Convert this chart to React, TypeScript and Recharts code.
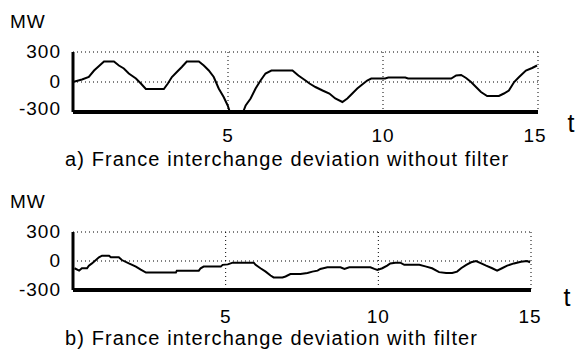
import { CartesianGrid, Line, LineChart, XAxis, YAxis } from "recharts";

// time axis (t) and interchange deviation (MW)
const topT = [0, 0.29, 0.51, 0.68, 0.84, 1.0, 1.32, 1.48, 1.64, 1.8, 2.03, 2.19, 2.35, 2.93, 3.06, 3.19, 3.35, 3.51, 3.67, 4.06, 4.22, 4.38, 4.54, 4.7, 4.86, 4.99, 5.05, 5.5, 5.57, 5.73, 5.89, 6.05, 6.21, 6.4, 7.08, 7.27, 7.5, 7.63, 7.82, 8.05, 8.27, 8.46, 8.69, 8.85, 9.01, 9.17, 9.33, 9.49, 9.62, 10.07, 10.17, 10.72, 10.81, 12.2, 12.36, 12.52, 12.68, 12.84, 13.0, 13.16, 13.36, 13.74, 13.9, 14.06, 14.23, 14.39, 14.61, 14.81, 14.97];
const topMW = [0, 25, 50, 115, 160, 205, 205, 165, 135, 85, 35, -15, -70, -70, -15, 50, 100, 150, 205, 205, 165, 115, 50, -65, -150, -235, -290, -290, -235, -165, -65, 15, 85, 115, 115, 65, 15, -15, -50, -85, -115, -165, -200, -165, -115, -65, -25, 15, 35, 35, 45, 45, 35, 35, 65, 70, 40, 0, -50, -100, -140, -140, -115, -85, 0, 50, 115, 140, 165];

const botT = [0.05, 0.2, 0.29, 0.46, 0.52, 0.62, 0.75, 0.85, 0.95, 1.18, 1.24, 1.5, 1.6, 1.83, 2.06, 2.22, 2.39, 3.37, 3.4, 4.12, 4.18, 4.28, 4.84, 4.9, 5.07, 5.23, 5.92, 5.98, 6.14, 6.31, 6.47, 6.57, 6.86, 6.96, 7.12, 7.45, 7.68, 7.84, 8.01, 8.1, 8.33, 8.76, 8.89, 9.05, 9.74, 9.87, 9.97, 10.13, 10.29, 10.39, 10.56, 10.72, 10.85, 11.34, 11.57, 11.76, 11.99, 12.22, 12.42, 12.58, 12.71, 12.88, 13.04, 13.2, 13.37, 13.53, 13.73, 13.89, 14.05, 14.22, 14.44, 14.67, 14.87, 14.97];
const botMW = [-75, -100, -75, -75, -48, -25, 10, 38, 55, 55, 38, 38, 10, -25, -58, -90, -120, -120, -100, -100, -75, -58, -58, -40, -35, -17, -17, -40, -75, -110, -150, -170, -170, -160, -135, -135, -125, -110, -100, -82, -65, -65, -82, -65, -65, -82, -92, -75, -48, -25, -17, -17, -40, -40, -58, -75, -115, -125, -125, -110, -75, -40, -13, 0, -25, -48, -75, -100, -75, -48, -25, -7, 0, -13];

const xTicks = [5, 10, 15];
const yTicks = [-300, 0, 300];
const captions = [
	"a) France interchange deviation without filter",
	"b) France interchange deviation with filter",
];

const FONT = '"Liberation Sans", Arial, sans-serif';

const topData = topT.map((t, i) => ({ t, mw: topMW[i] }));
const botData = botT.map((t, i) => ({ t, mw: botMW[i] }));

function makeYTick(lowShift: number) {
	return (props: any) => {
		const v = props.payload.value;
		return (
			<text x={61} y={props.y + (v === -300 ? lowShift : 6)} textAnchor="end" fontFamily={FONT} fontSize={19} letterSpacing={1} fill="#000">
				{v}
			</text>
		);
	};
}

function makeXTick(baseline: number, lastShift: number) {
	return (props: any) => {
		const v = props.payload.value;
		return (
			<text x={props.x + (v === 15 ? lastShift : 0)} y={props.y + baseline} textAnchor="middle" fontFamily={FONT} fontSize={19} letterSpacing={1} fill="#000">
				{v}
			</text>
		);
	};
}

function Panel({ data, height, margin, xBase, lastShift, lowShift }: any) {
	return (
		<LineChart width={575} height={height} data={data} margin={margin}>
			<CartesianGrid stroke="#000" strokeDasharray="1 3" horizontalValues={yTicks} verticalValues={xTicks} />
			<XAxis
				dataKey="t"
				type="number"
				domain={[0, 15]}
				ticks={xTicks}
				tickLine={false}
				tickSize={0}
				tickMargin={0}
				height={30}
				axisLine={{ stroke: "#000", strokeWidth: 4 }}
				tick={makeXTick(xBase, lastShift)}
				interval={0}
			/>
			<YAxis
				type="number"
				domain={[-300, 300]}
				ticks={yTicks}
				tickLine={false}
				tickSize={0}
				tickMargin={0}
				width={73}
				axisLine={{ stroke: "#000", strokeWidth: 3 }}
				tick={makeYTick(lowShift)}
				interval={0}
			/>
			<Line type="linear" dataKey="mw" stroke="#000" strokeWidth={2} dot={false} isAnimationActive={false} />
		</LineChart>
	);
}

export default function App() {
	return (
		<div style={{ position: "absolute", left: 0, top: 0, width: 575, height: 352, background: "#fff" }}>
			<div style={{ position: "absolute", left: 0, top: 0 }}>
				<Panel data={topData} height={176} margin={{ top: 52, right: 37, bottom: 34, left: 0 }} xBase={30} lastShift={-3} lowShift={3} />
			</div>
			<div style={{ position: "absolute", left: 0, top: 180 }}>
				<Panel data={botData} height={172} margin={{ top: 52, right: 44, bottom: 32, left: 0 }} xBase={33} lastShift={-1} lowShift={6} />
			</div>
			<svg width={575} height={352} style={{ position: "absolute", left: 0, top: 0, pointerEvents: "none" }}>
				<g fontFamily={FONT} fill="#000">
					<text x={10} y={28} fontSize={19} letterSpacing={1}>MW</text>
					<text x={10} y={208} fontSize={19} letterSpacing={1}>MW</text>
					<text x={571} y={132} fontSize={25} textAnchor="middle">t</text>
					<text x={567} y={306} fontSize={25} textAnchor="middle">t</text>
					<text x={65} y={166} fontSize={20} letterSpacing={1.1}>{captions[0]}</text>
					<text x={65} y={345} fontSize={20} letterSpacing={1.1}>{captions[1]}</text>
				</g>
			</svg>
		</div>
	);
}
